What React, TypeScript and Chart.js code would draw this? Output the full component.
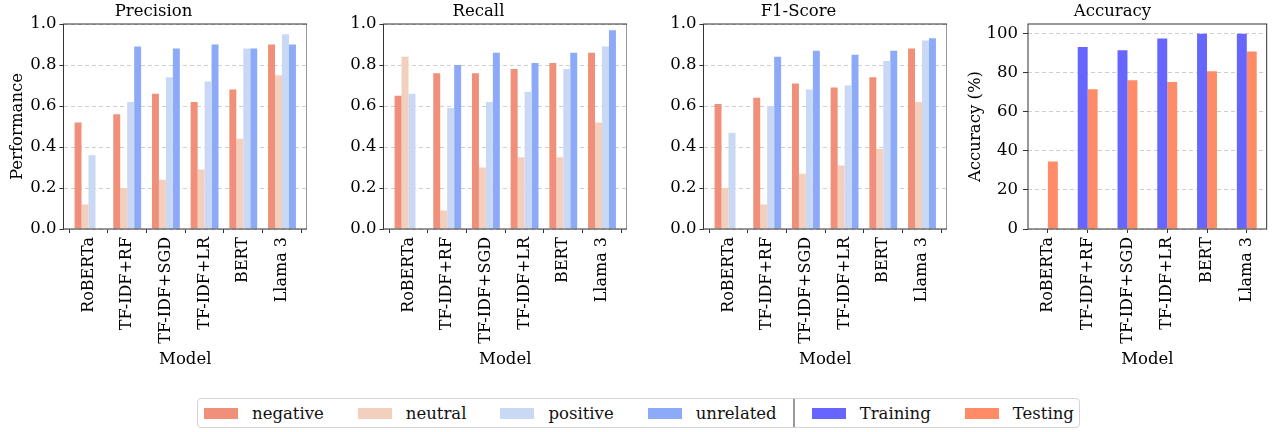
import React, { useEffect, useRef } from "react";
import { Chart, registerables } from "chart.js";

Chart.register(...registerables);

const FONT = "'DejaVu Serif', 'Liberation Serif', serif";
Chart.defaults.font.family = FONT;
Chart.defaults.font.size = 16;
Chart.defaults.color = "#000";

// ---------- data ----------
const CATEGORIES = ["RoBERTa", "TF-IDF+RF", "TF-IDF+SGD", "TF-IDF+LR", "BERT", "Llama 3"];
const SENTIMENTS = ["negative", "neutral", "positive", "unrelated"];
const SENTIMENT_COLORS = ["#F0907A", "#F3CFBE", "#C8D8F5", "#8CAAF8"];

const PRECISION_NEGATIVE = [0.52, 0.56, 0.66, 0.62, 0.68, 0.9];
const PRECISION_NEUTRAL = [0.12, 0.2, 0.24, 0.29, 0.44, 0.75];
const PRECISION_POSITIVE = [0.36, 0.62, 0.74, 0.72, 0.88, 0.95];
const PRECISION_UNRELATED = [null, 0.89, 0.88, 0.9, 0.88, 0.9];

const RECALL_NEGATIVE = [0.65, 0.76, 0.76, 0.78, 0.81, 0.86];
const RECALL_NEUTRAL = [0.84, 0.09, 0.3, 0.35, 0.35, 0.52];
const RECALL_POSITIVE = [0.66, 0.59, 0.62, 0.67, 0.78, 0.89];
const RECALL_UNRELATED = [null, 0.8, 0.86, 0.81, 0.86, 0.97];

const F1_NEGATIVE = [0.61, 0.64, 0.71, 0.69, 0.74, 0.88];
const F1_NEUTRAL = [0.2, 0.12, 0.27, 0.31, 0.39, 0.62];
const F1_POSITIVE = [0.47, 0.6, 0.68, 0.7, 0.82, 0.92];
const F1_UNRELATED = [null, 0.84, 0.87, 0.85, 0.87, 0.93];

const ACCURACY_SERIES = ["Training", "Testing"];
const ACCURACY_COLORS = ["#6666FF", "#FF8C66"];
const ACCURACY_TRAINING = [null, 93.2, 91.6, 97.6, 100, 100];
const ACCURACY_TESTING = [34.6, 71.6, 76.2, 75.3, 80.8, 90.9];

const METRIC_TICK_STEP = 0.2;
const ACCURACY_TICK_STEP = 20;

// ---------- helpers ----------
const TICK_COLOR = "#333";
const GRID_COLOR = "#cfcfcf";
const TEXT_SIZE = 16.5;
const XTICK_SIZE = 16;

const framePlugin = {
  id: "frame",
  afterDatasetsDraw(chart: any) {
    const { ctx, chartArea: a } = chart;
    ctx.save();
    ctx.strokeStyle = "#333";
    ctx.lineWidth = 1;
    ctx.strokeRect(a.left, a.top, a.right - a.left, a.bottom - a.top);
    ctx.restore();
  },
};

const X_AXIS_HEIGHT = 151;

function titleOpts(text: string) {
  return {
    display: true,
    text,
    color: "#000",
    font: { size: TEXT_SIZE, weight: "normal" as const },
    padding: { top: 2, bottom: 2.2 },
  };
}

function xTitle() {
  return { display: true, text: "Model", color: "#000", font: { size: TEXT_SIZE }, padding: { top: 0, bottom: 10 } };
}

function metricConfig(title: string, series: (number | null)[][], yWidth: number, yTitle: string | null) {
  return {
    type: "bar" as const,
    data: {
      datasets: SENTIMENTS.map((name, k) => ({
        label: name,
        data: CATEGORIES.map((_, i) => ({ x: i, y: series[k][i] })),
        backgroundColor: SENTIMENT_COLORS[k],
        borderWidth: 0,
        categoryPercentage: 0.72,
        barPercentage: 1,
      })),
    },
    options: {
      responsive: false,
      animation: false as const,
      layout: { padding: 0 },
      plugins: {
        legend: { display: false },
        tooltip: { enabled: false },
        title: titleOpts(title),
      },
      scales: {
        x: {
          type: "linear" as const,
          min: -0.646,
          max: CATEGORIES.length - 1 + 0.646,
          offset: false,
          afterBuildTicks: (s: any) => {
            s.ticks = CATEGORIES.map((_, i) => ({ value: i }));
          },
          afterFit: (s: any) => {
            s.height = X_AXIS_HEIGHT;
          },
          ticks: {
            autoSkip: false,
            minRotation: 90,
            maxRotation: 90,
            padding: 4,
            color: "#000",
            font: { size: XTICK_SIZE },
            callback: (v: any) => CATEGORIES[Math.round(Number(v))],
          },
          grid: { drawOnChartArea: false, drawTicks: true, tickLength: 4, tickColor: TICK_COLOR },
          border: { display: false },
          title: xTitle(),
        },
        y: {
          min: 0,
          max: 1,
          afterFit: (s: any) => {
            s.width = yWidth;
          },
          ticks: {
            stepSize: METRIC_TICK_STEP,
            padding: 3,
            color: "#000",
            font: { size: TEXT_SIZE },
            callback: (v: any) => Number(v).toFixed(1),
          },
          grid: { color: GRID_COLOR, lineWidth: 1, drawTicks: true, tickLength: 4, tickColor: TICK_COLOR, tickBorderDash: [] },
          border: { display: false, dash: [4, 3] },
          title: {
            display: !!yTitle,
            text: yTitle || "",
            color: "#000",
            font: { size: TEXT_SIZE },
            padding: { top: 8, bottom: 0 },
          },
        },
      },
    },
    plugins: [framePlugin],
  };
}

function accuracyConfig(yWidth: number) {
  const series = [ACCURACY_TRAINING, ACCURACY_TESTING];
  return {
    type: "bar" as const,
    data: {
      labels: CATEGORIES,
      datasets: ACCURACY_SERIES.map((name, k) => ({
        label: name,
        data: series[k],
        backgroundColor: ACCURACY_COLORS[k],
        borderWidth: 0,
        categoryPercentage: 0.5,
        barPercentage: 1,
      })),
    },
    options: {
      responsive: false,
      animation: false as const,
      layout: { padding: 0 },
      plugins: {
        legend: { display: false },
        tooltip: { enabled: false },
        title: titleOpts("Accuracy"),
      },
      scales: {
        x: {
          type: "category" as const,
          offset: true,
          afterFit: (s: any) => {
            s.height = X_AXIS_HEIGHT;
          },
          ticks: {
            autoSkip: false,
            minRotation: 90,
            maxRotation: 90,
            padding: 4,
            color: "#000",
            font: { size: XTICK_SIZE },
          },
          grid: { offset: false, drawOnChartArea: false, drawTicks: true, tickLength: 4, tickColor: TICK_COLOR },
          border: { display: false },
          title: xTitle(),
        },
        y: {
          min: 0,
          max: 105,
          afterFit: (s: any) => {
            s.width = yWidth;
          },
          ticks: {
            stepSize: ACCURACY_TICK_STEP,
            includeBounds: false,
            padding: 5,
            color: "#000",
            font: { size: TEXT_SIZE },
            callback: (v: any) => String(v),
          },
          grid: { color: GRID_COLOR, lineWidth: 1, drawTicks: true, tickLength: 5, tickColor: TICK_COLOR, tickBorderDash: [] },
          border: { display: false, dash: [4, 3] },
          title: {
            display: true,
            text: "Accuracy (%)",
            color: "#000",
            font: { size: TEXT_SIZE },
            padding: { top: 10.4, bottom: 0 },
          },
        },
      },
    },
    plugins: [framePlugin],
  };
}

function ChartCanvas(props: { left: number; width: number; height: number; make: () => any }) {
  const ref = useRef<HTMLCanvasElement>(null);
  useEffect(() => {
    const chart = new Chart(ref.current as HTMLCanvasElement, props.make());
    return () => chart.destroy();
  }, []);
  return (
    <canvas
      ref={ref}
      width={props.width}
      height={props.height}
      style={{ position: "absolute", left: props.left, top: 0, width: props.width, height: props.height }}
    />
  );
}

function Swatch({ color, label, first }: { color: string; label: string; first?: boolean }) {
  return (
    <div style={{ display: "flex", alignItems: "center", marginLeft: first ? 0 : 34 }}>
      <div style={{ width: 34, height: 11, background: color, marginRight: 14 }} />
      <span style={{ fontFamily: FONT, fontSize: TEXT_SIZE, color: "#111", whiteSpace: "nowrap" }}>{label}</span>
    </div>
  );
}

export default function App() {
  const CH = 380;
  return (
    <div style={{ position: "absolute", left: 0, top: 0, width: 1279, height: 432, background: "#fff", overflow: "hidden" }}>
      <ChartCanvas
        left={0}
        width={307}
        height={CH}
        make={() =>
          metricConfig(
            "Precision",
            [PRECISION_NEGATIVE, PRECISION_NEUTRAL, PRECISION_POSITIVE, PRECISION_UNRELATED],
            63.5,
            "Performance"
          )
        }
      />
      <ChartCanvas
        left={330}
        width={297}
        height={CH}
        make={() => metricConfig("Recall", [RECALL_NEGATIVE, RECALL_NEUTRAL, RECALL_POSITIVE, RECALL_UNRELATED], 53.5, null)}
      />
      <ChartCanvas
        left={650}
        width={297}
        height={CH}
        make={() => metricConfig("F1-Score", [F1_NEGATIVE, F1_NEUTRAL, F1_POSITIVE, F1_UNRELATED], 53.5, null)}
      />
      <ChartCanvas left={955} width={315} height={CH} make={() => accuracyConfig(73)} />

      <div
        style={{
          position: "absolute",
          left: 197,
          top: 398,
          width: 883,
          height: 30,
          boxSizing: "border-box",
          border: "1px solid #d4d4d4",
          borderRadius: 4,
          background: "#fff",
          display: "flex",
          alignItems: "center",
          paddingLeft: 6,
        }}
      >
        {SENTIMENTS.map((s, i) => (
          <Swatch key={s} color={SENTIMENT_COLORS[i]} label={s} first={i === 0} />
        ))}
        <div style={{ width: 2, alignSelf: "stretch", background: "#999", marginLeft: 16 }} />
        {ACCURACY_SERIES.map((s, i) => (
          <div key={s} style={{ marginLeft: i === 0 ? 17 : 0 }}>
            <Swatch color={ACCURACY_COLORS[i]} label={s} first={i === 0} />
          </div>
        ))}
      </div>
    </div>
  );
}
